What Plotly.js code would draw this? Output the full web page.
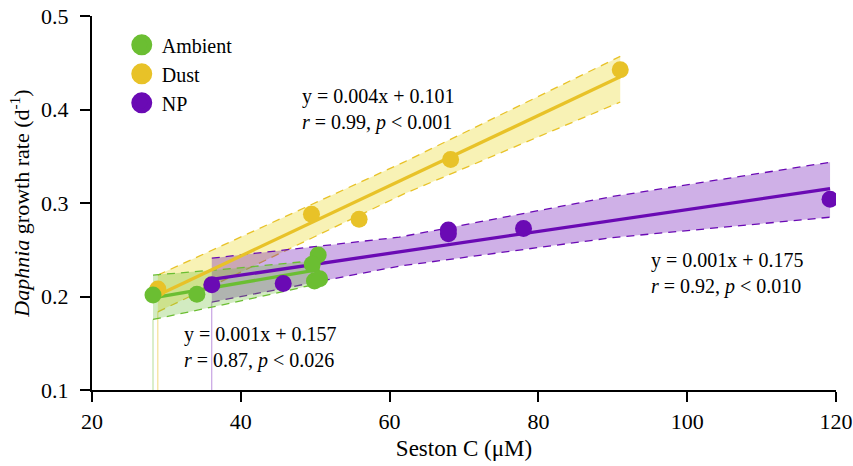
<!DOCTYPE html>
<html>
<head>
<meta charset="utf-8">
<script src="https://cdn.plot.ly/plotly-3.0.1.min.js"></script>
<style>html,body{margin:0;padding:0;background:#fff;}#chart{width:853px;height:466px;}</style>
</head>
<body>
<div id="chart"></div>
<script>
// ---- data ----
const seriesNames = ["Ambient", "Dust", "NP"];
const ambientX = [28.2, 34.1, 50.4, 49.6, 49.9, 50.6];
const ambientY = [0.2015, 0.2025, 0.2445, 0.2345, 0.2165, 0.2190];
const dustX = [28.85, 49.5, 55.9, 68.2, 91.0];
const dustY = [0.2079, 0.2880, 0.2827, 0.3465, 0.4426];
const npX = [36.1, 45.7, 67.9, 67.9, 78.0, 119.2];
const npY = [0.2125, 0.2140, 0.2710, 0.2670, 0.2727, 0.3040];

// confidence band edges
const ambientBandX = [28.2, 39.0, 50.6];
const ambientBandLo = [0.1755, 0.1935, 0.2140];
const ambientBandHi = [0.2229, 0.2300, 0.2389];
const dustBandX = [28.85, 62.0, 91.0];
const dustBandLo = [0.1836, 0.3100, 0.4080];
const dustBandHi = [0.2229, 0.3440, 0.4568];
const npBandX = [36.1, 61.3, 90.0, 119.2];
const npBandLo = [0.1940, 0.2325, 0.2630, 0.2848];
const npBandHi = [0.2410, 0.2635, 0.3070, 0.3436];

const eqTexts = [
  "y = 0.001x + 0.157<br><i>r</i> = 0.87, <i>p</i> &lt; 0.026",
  "y = 0.004x + 0.101<br><i>r</i> = 0.99, <i>p</i> &lt; 0.001",
  "y = 0.001x + 0.175<br><i>r</i> = 0.92, <i>p</i> &lt; 0.010"
];
const xTicks = [20, 40, 60, 80, 100, 120];
const yTicks = [0.1, 0.2, 0.3, 0.4, 0.5];

// ---- styles ----
const colors = ["#6BBE32", "#E8C228", "#6A0AB4"];
const fills = ["rgba(107,190,50,0.30)", "rgba(238,222,70,0.40)", "rgba(106,10,180,0.32)"];
const edgeFills = ["rgba(107,190,50,0.5)", "rgba(232,194,40,0.6)", "rgba(106,10,180,0.45)"];
const FONT = "Liberation Serif, Times New Roman, serif";

// ordinary least squares fit line
function regress(x, y) {
  const n = x.length;
  const mx = x.reduce((a, b) => a + b, 0) / n;
  const my = y.reduce((a, b) => a + b, 0) / n;
  let sxx = 0, sxy = 0;
  for (let i = 0; i < n; i++) { sxx += (x[i] - mx) ** 2; sxy += (x[i] - mx) * (y[i] - my); }
  const b = sxy / sxx, a = my - b * mx;
  const x0 = Math.min(...x), x1 = Math.max(...x);
  return {x: [x0, x1], y: [a + b * x0, a + b * x1]};
}

const sets = [[ambientX, ambientY], [dustX, dustY], [npX, npY]];
const bands = [
  [ambientBandX, ambientBandLo, ambientBandHi],
  [dustBandX, dustBandLo, dustBandHi],
  [npBandX, npBandLo, npBandHi]
];
const drawOrder = [1, 2, 0];
const traces = [];

// bands
drawOrder.forEach(i => {
  const [bx, lo, hi] = bands[i];
  traces.push({
    x: bx.concat(bx.slice().reverse()),
    y: hi.concat(lo.slice().reverse()),
    mode: "lines", fill: "toself", fillcolor: fills[i],
    line: {width: 0}, hoverinfo: "skip", showlegend: false
  });
  traces.push({
    x: [bx[0], bx[0]], y: [lo[0], 0.1], mode: "lines",
    line: {color: edgeFills[i], width: 1},
    hoverinfo: "skip", showlegend: false
  });
  [hi, lo].forEach(edge => traces.push({
    x: bx, y: edge, mode: "lines",
    line: {color: colors[i], width: 1.3, dash: "8px,6px"},
    hoverinfo: "skip", showlegend: false
  }));
});
// fit lines
drawOrder.forEach(i => {
  const r = regress(sets[i][0], sets[i][1]);
  traces.push({
    x: r.x, y: r.y, mode: "lines",
    line: {color: colors[i], width: 3.3}, hoverinfo: "skip", showlegend: false
  });
});
// points
[1, 2, 0].forEach(i => {
  traces.push({
    x: sets[i][0], y: sets[i][1], mode: "markers", name: seriesNames[i],
    marker: {color: colors[i], size: 17}, showlegend: false, hoverinfo: "skip"
  });
});
// legend entries (bigger symbols than the point markers)
[0, 1, 2].forEach(i => {
  traces.push({
    x: [null], y: [null], mode: "markers", name: seriesNames[i],
    marker: {color: colors[i], size: 16, line: {color: colors[i], width: 5}}
  });
});

const annPos = [[32.1, 0.1455], [47.9, 0.400], [94.8, 0.2245]];
const annotations = eqTexts.map((t, i) => ({
  x: annPos[i][0], y: annPos[i][1], xref: "x", yref: "y",
  xanchor: "left", yanchor: "middle", align: "left", showarrow: false,
  text: t, font: {family: FONT, size: 20, color: "#000"}
}));

const layout = {
  width: 853, height: 466,
  margin: {l: 92, r: 17, t: 16, b: 76},
  paper_bgcolor: "#fff", plot_bgcolor: "#fff",
  font: {family: FONT, size: 20, color: "#000"},
  showlegend: true,
  legend: {x: 0.04, y: 0.975, xanchor: "left", yanchor: "top",
           font: {family: FONT, size: 20}, bgcolor: "rgba(0,0,0,0)", traceorder: "normal"},
  xaxis: {
    range: [20, 120], tickvals: xTicks, ticktext: xTicks.map(String),
    showgrid: false, zeroline: false, showline: true, linecolor: "#000", linewidth: 2,
    ticks: "outside", ticklen: 10, tickwidth: 2, tickcolor: "#000",
    ticklabelstandoff: 1, ticklabeloverflow: "allow",
    tickfont: {family: FONT, size: 22},
    title: {text: "Seston C (μM)", font: {family: FONT, size: 23}, standoff: 6}
  },
  yaxis: {
    range: [0.1, 0.5], tickvals: yTicks, ticktext: yTicks.map(v => v.toFixed(1)),
    showgrid: false, zeroline: false, showline: true, linecolor: "#000", linewidth: 2,
    ticks: "outside", ticklen: 10, tickwidth: 2, tickcolor: "#000",
    ticklabelstandoff: 7,
    tickfont: {family: FONT, size: 22},
    title: {text: "<i>Daphnia</i> growth rate (d<sup>-1</sup>)", font: {family: FONT, size: 22}, standoff: 5}
  },
  annotations: annotations
};

Plotly.newPlot("chart", traces, layout, {displayModeBar: false, staticPlot: true});
</script>
</body>
</html>
